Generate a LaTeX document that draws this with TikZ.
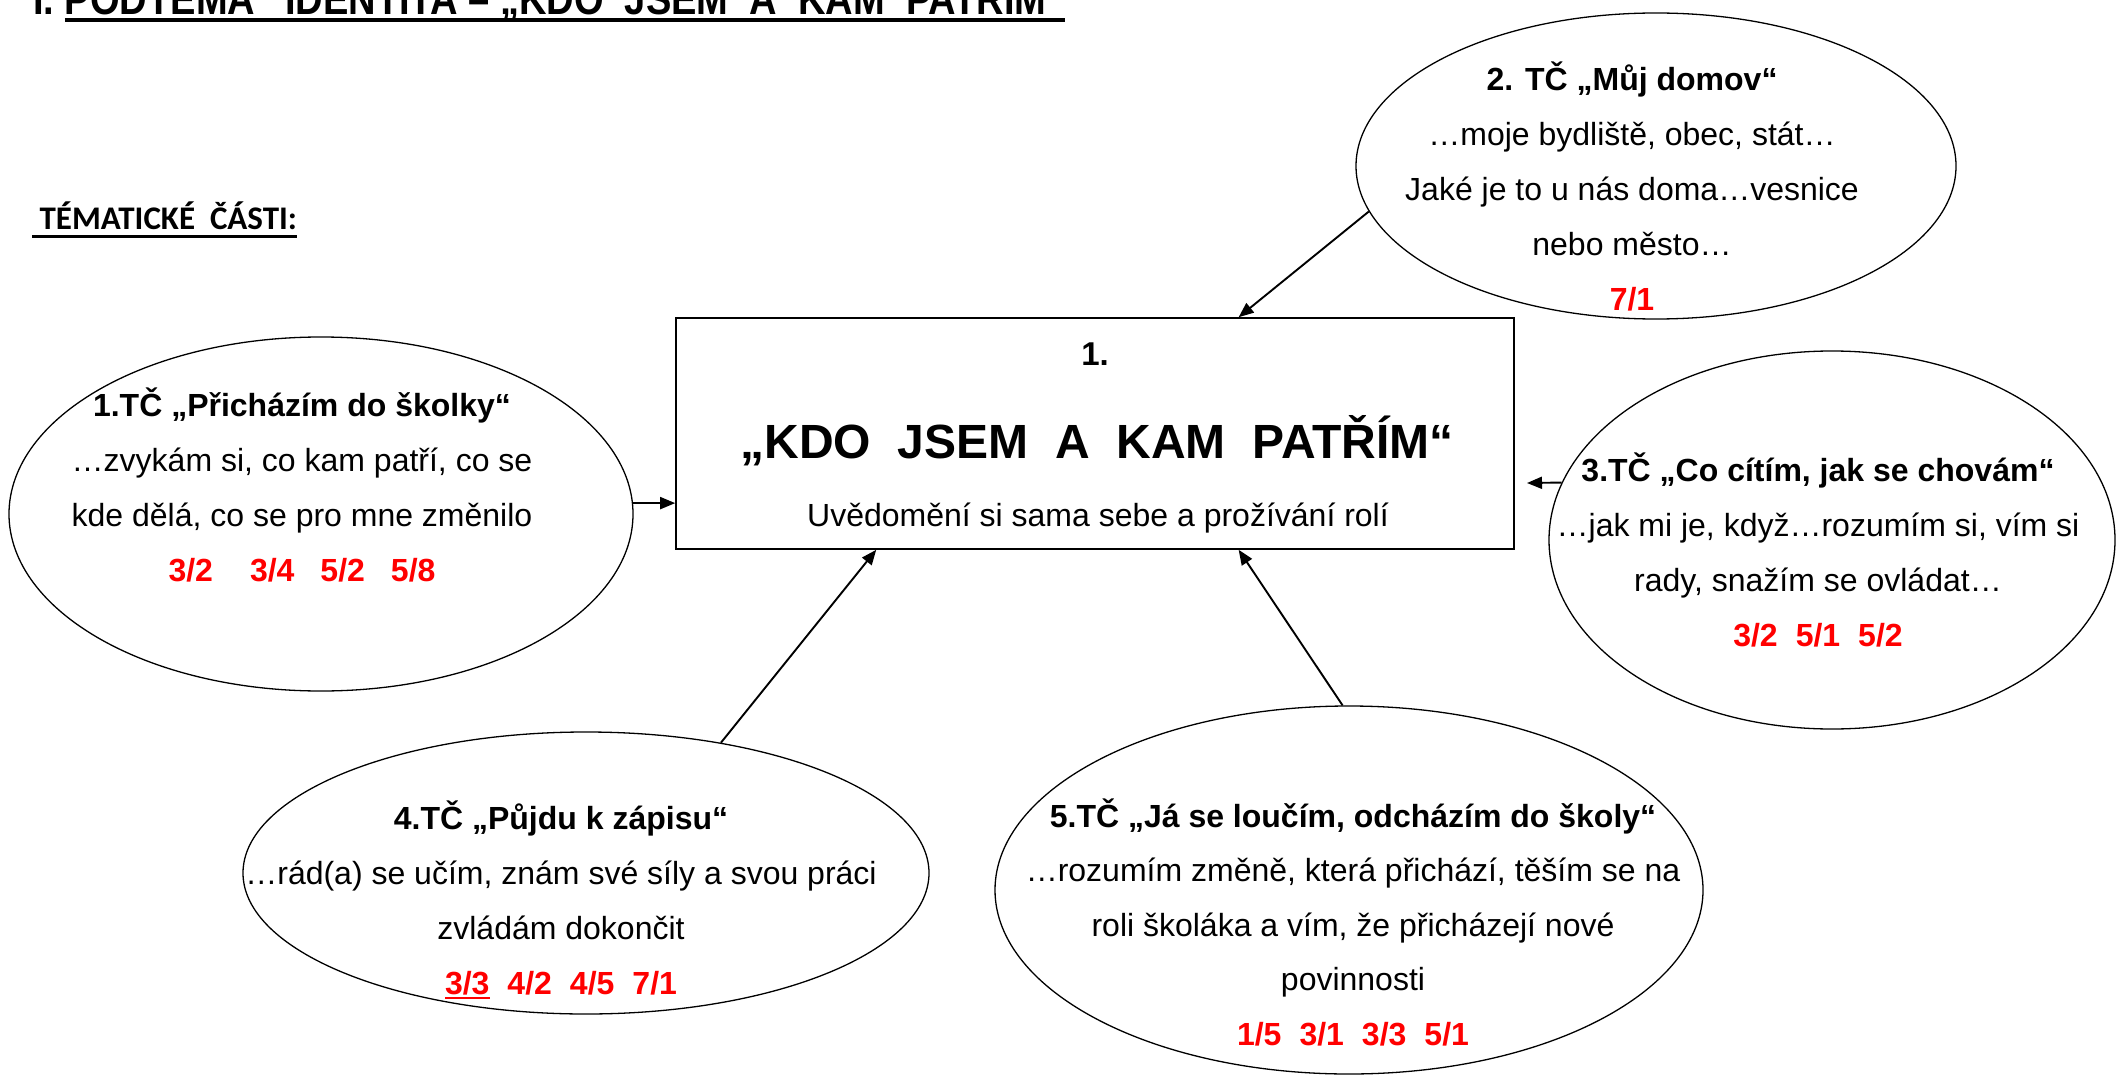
\documentclass[tikz,border=0pt]{standalone}
\usepackage{fontspec}
\setmainfont{Liberation Sans}
\newfontfamily\narrowfont[FakeStretch=0.865]{Liberation Sans}
\newfontfamily\calibrifont{Carlito}
\usetikzlibrary{arrows.meta,shapes.geometric}
\newcommand\ulx[3]{\setbox0=\hbox{#3}\rlap{\rule[#1]{\wd0}{#2}}\box0}
\newcommand\fs{\rule{0pt}{34pt}}
\begin{document}
\begin{tikzpicture}[x=1pt,y=-1pt,
  ell/.style={draw, ellipse, line width=1.3pt, inner sep=0pt},
  mainbox/.style={draw, rectangle, line width=1.6pt, inner sep=0pt},
  tx/.style={align=center, inner sep=0pt, anchor=north, font=\fontsize{32}{55}\selectfont},
  lbl/.style={inner sep=0pt, anchor=base},
  arr/.style={line width=1.9pt, -{Triangle[length=15pt,width=12pt]}}
]
\useasboundingbox (0,0) rectangle (2116,1075);
\clip (0,0) rectangle (2116,1075);

% title
\node[inner sep=0pt, anchor=base west] (title) at (33,15)
  {\narrowfont\bfseries\fontsize{44}{50}\selectfont I.\ \ulx{-6.7pt}{3.4pt}{PODTÉMA\hspace{30pt}IDENTITA – „KDO~~JSEM~~A~~KAM~~PATŘÍM“}};
\node[inner sep=0pt, anchor=base west] (parts) at (32,230)
  {\calibrifont\bfseries\fontsize{33}{40}\selectfont\ulx{-8pt}{3pt}{\ TÉMATICKÉ~~ČÁSTI:}};

% central box
\node[mainbox, minimum width=838pt, minimum height=231pt] (mb) at (1095,433.5) {};
\node[lbl, font=\bfseries\fontsize{33}{40}\selectfont] (mb1) at (1095,365) {1.};
\node[lbl, font=\bfseries\fontsize{48}{56}\selectfont] (mbk) at (1097,458) {„KDO~~JSEM~~A~~KAM~~PATŘÍM“};
\node[lbl, font=\fontsize{32}{40}\selectfont] (mbu) at (1098,526) {Uvědomění si sama sebe a prožívání rolí};

% ellipses
\node[ell, minimum width=624pt, minimum height=354pt] (e1) at (321,514) {};
\node[ell, minimum width=600pt, minimum height=306pt] (e2) at (1656,166) {};
\node[ell, minimum width=566pt, minimum height=378pt] (e3) at (1832,540) {};
\node[ell, minimum width=686pt, minimum height=282pt] (e4) at (586,873) {};
\node[ell, minimum width=708pt, minimum height=368pt] (e5) at (1349,890) {};

% ellipse texts
\node[tx] (t1) at (302,382) {\fs\textbf{1.TČ „Přicházím do školky“}\\
  …zvykám si, co kam patří, co se\\
  kde dělá, co se pro mne změnilo\\
  \textcolor{red}{\textbf{3/2\hspace{37pt}3/4\hspace{26pt}5/2\hspace{26pt}5/8}}};
\node[tx] (t2) at (1632,56) {\fs\textbf{2. TČ „Můj domov“}\\
  …moje bydliště, obec, stát…\\
  Jaké je to u nás doma…vesnice\\
  nebo město…\\
  \textcolor{red}{\textbf{7/1}}};
\node[tx] (t3) at (1818,447) {\fs\textbf{3.TČ „Co cítím, jak se chovám“}\\
  …jak mi je, když…rozumím si, vím si\\
  rady, snažím se ovládat…\\
  \textcolor{red}{\textbf{3/2\hspace{18pt}5/1\hspace{18pt}5/2}}};
\node[tx] (t4) at (561,795) {\fs\textbf{4.TČ „Půjdu k zápisu“}\\
  …rád(a) se učím, znám své síly a svou práci\\
  zvládám dokončit\\
  \textcolor{red}{\textbf{\ulx{-5pt}{2.5pt}{3/3}\hspace{18pt}4/2\hspace{18pt}4/5\hspace{18pt}7/1}}};
\node[tx, font=\fontsize{32}{54.5}\selectfont] (t5) at (1353,793) {\fs\textbf{5.TČ „Já se loučím, odcházím do školy“}\\
  …rozumím změně, která přichází, těším se na\\
  roli školáka a vím, že přicházejí nové\\
  povinnosti\\
  \textcolor{red}{\textbf{1/5\hspace{18pt}3/1\hspace{18pt}3/3\hspace{18pt}5/1}}};

% connectors
\coordinate (a3) at (1527,483);
\draw[arr] (e1.2) -- (e1.2 -| mb.west);
\draw[arr] (e2.189) -- (mb.39);
\draw[arr] (e3.168) -- (a3);
\draw[arr] (e4.44) -- (mb.208);
\draw[arr] (e5.92) -- (mb.321);
\end{tikzpicture}
\end{document}
